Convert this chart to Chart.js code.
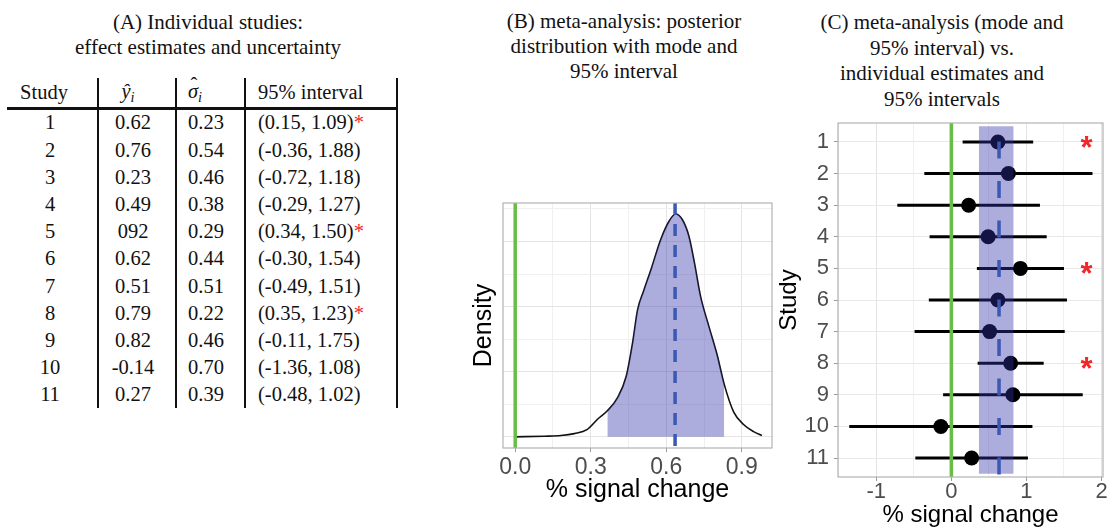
<!DOCTYPE html>
<html>
<head>
<meta charset="utf-8">
<script src="https://cdn.jsdelivr.net/npm/chart.js@4.4.1/dist/chart.umd.min.js"></script>
<style>
  body { margin: 0; width: 1111px; height: 529px; overflow: hidden; background: #fff; position: relative;
         font-family: 'Liberation Serif', 'Times New Roman', serif; color: #111; }
  .ptitle { position: absolute; width: 320px; text-align: center; font-size: 21px; line-height: 25px; }
  .cell { position: absolute; height: 26px; line-height: 26px; font-size: 20.5px; white-space: nowrap; }
  .cell sub { font-size: 0.7em; vertical-align: -0.25em; line-height: 0; }
  .hat { position: relative; display: inline-block; }
  .hat b { position: absolute; left: 0.12em; top: -0.3em; font-weight: normal; font-style: normal; }
  .rule { position: absolute; background: #111; }
  .star { color: #f0282a; }
  canvas { position: absolute; }
</style>
</head>
<body>
<div class="ptitle" style="left:48px;top:10px">(A) Individual studies:<br>effect estimates and uncertainty</div>
<div class="ptitle" style="left:464px;top:9px">(B) meta-analysis: posterior<br>distribution with mode and<br>95% interval</div>
<div class="ptitle" style="left:782px;top:10px;line-height:25.7px">(C) meta-analysis (mode and<br>95% interval) vs.<br>individual estimates and<br>95% intervals</div>
<div id="studyTable"></div>
<canvas id="densityChart" width="310" height="339" style="left:465px;top:190px"></canvas>
<canvas id="forestChart" width="341" height="419" style="left:770px;top:110px"></canvas>

<script>
// --- individual studies ---
const studies = [1, 2, 3, 4, 5, 6, 7, 8, 9, 10, 11];
const estimates = [0.62, 0.76, 0.23, 0.49, 0.92, 0.62, 0.51, 0.79, 0.82, -0.14, 0.27];
const sigmas = [0.23, 0.54, 0.46, 0.38, 0.29, 0.44, 0.51, 0.22, 0.46, 0.70, 0.39];
const lower = [0.15, -0.36, -0.72, -0.29, 0.34, -0.30, -0.49, 0.35, -0.11, -1.36, -0.48];
const upper = [1.09, 1.88, 1.18, 1.27, 1.50, 1.54, 1.51, 1.23, 1.75, 1.08, 1.02];
// estimate column exactly as printed in the table (row 5 reads "092")
const estimateText = ['0.62', '0.76', '0.23', '0.49', '092', '0.62', '0.51', '0.79', '0.82', '-0.14', '0.27'];
const significant = [1, 5, 8];

// --- meta-analysis posterior ---
const densityX = [0, 0.116, 0.182, 0.235, 0.285, 0.327, 0.366, 0.406, 0.441, 0.466, 0.486, 0.510, 0.541,
                  0.578, 0.611, 0.637, 0.663, 0.690, 0.712, 0.736, 0.769, 0.802, 0.830, 0.868, 0.907, 0.947, 0.980];
const densityY = [0, 0.01, 0.02, 0.05, 0.11, 0.27, 0.40, 0.60, 0.93, 1.44, 1.95, 2.24, 2.59,
                  3.03, 3.31, 3.42, 3.34, 3.08, 2.67, 2.16, 1.70, 1.26, 0.81, 0.38, 0.19, 0.08, 0.02];
const postLow = 0.366;
const postHigh = 0.83;
const postMode = 0.635;
const nullValue = 0;

// --- tick labels ---
const densityTicks = [0, 0.3, 0.6, 0.9];
const forestTicks = [-1, 0, 1, 2];

const sans = "'Liberation Sans', Arial, sans-serif";
const bandColor = 'rgba(50, 50, 170, 0.4)';
const zeroGreen = '#69bd45';
const modeBlue = '#3b58b2';
const tickGrey = '#4d4d4d';

// ---------- table (A) ----------
const table = document.getElementById('studyTable');
function cell(html, cx, cy, align) {
    const d = document.createElement('div');
    d.className = 'cell';
    d.innerHTML = html;
    if (align === 'left') {
        d.style.left = cx + 'px';
    } else {
        d.style.left = (cx - 60) + 'px';
        d.style.width = '120px';
        d.style.textAlign = 'center';
    }
    d.style.top = (cy - 13) + 'px';
    table.appendChild(d);
}
function rule(x, y, w, h) {
    const d = document.createElement('div');
    d.className = 'rule';
    Object.assign(d.style, { left: x + 'px', top: y + 'px', width: w + 'px', height: h + 'px' });
    table.appendChild(d);
}

cell('Study', 44, 92);
cell('<i>ŷ</i><sub><i>i</i></sub>', 128, 91);
cell('<span class="hat"><i>σ</i><b>ˆ</b></span><sub><i>i</i></sub>', 195, 91);
cell('95% interval', 258, 92, 'left');
studies.forEach((s, i) => {
    const cy = 122.3 + 27.2 * i;
    cell(String(s), 50, cy);
    cell(estimateText[i], 133, cy);
    cell(sigmas[i].toFixed(2), 206, cy);
    const star = significant.includes(s) ? '<span class="star">*</span>' : '';
    cell(`(${lower[i].toFixed(2)}, ${upper[i].toFixed(2)})${star}`, 258, cy, 'left');
});
rule(7, 107, 391, 2.5);
[96.5, 175, 244, 396].forEach(x => rule(x, 78, 2, 330));

// ---------- shared helpers ----------
const near = (v, list) => list.some(t => Math.abs(t - v) < 1e-6);
const labelFor = (v, list, digits) => {
    const m = list.find(t => Math.abs(t - v) < 1e-6);
    return m === undefined ? '' : m.toFixed(digits);
};
// keep the plot area where afterFit puts it (no extra room for edge labels)
const noEdgePadding = s => { s.paddingTop = 0; s.paddingBottom = 0; s.paddingLeft = 0; s.paddingRight = 0; };

const panelFrame = {
    id: 'panelFrame',
    afterDatasetsDraw(chart) {
        const { ctx, chartArea: a } = chart;
        ctx.save();
        ctx.strokeStyle = '#b3b3b3';
        ctx.lineWidth = 1.2;
        ctx.strokeRect(a.left, a.top, a.right - a.left, a.bottom - a.top);
        ctx.restore();
    }
};

// ---------- density (B) ----------
const densityPoints = densityX.map((x, i) => ({ x, y: densityY[i] }));
const densityYMin = -0.171, densityYMax = 3.59;

new Chart(document.getElementById('densityChart'), {
    type: 'line',
    data: {
        datasets: [
            {
                data: densityPoints,
                borderColor: '#111', borderWidth: 1.6, pointRadius: 0,
                cubicInterpolationMode: 'monotone', fill: false, order: 4
            },
            {
                data: densityPoints.filter(p => p.x >= postLow && p.x <= postHigh),
                borderColor: 'transparent', borderWidth: 0, backgroundColor: bandColor,
                pointRadius: 0, cubicInterpolationMode: 'monotone', fill: 'origin', order: 3
            },
            {
                data: [{ x: nullValue, y: densityYMin }, { x: nullValue, y: densityYMax }],
                borderColor: zeroGreen, borderWidth: 3.5, pointRadius: 0, order: 2
            },
            {
                data: [{ x: postMode, y: densityYMax }, { x: postMode, y: densityYMin }],
                borderColor: modeBlue, borderWidth: 3.5, borderDash: [12, 9], pointRadius: 0, order: 1
            }
        ]
    },
    options: {
        responsive: false,
        animation: false,
        events: [],
        layout: { padding: { left: 0, right: 3, top: 13, bottom: 0 } },
        plugins: { legend: { display: false }, tooltip: { enabled: false } },
        scales: {
            x: {
                type: 'linear', min: -0.0485, max: 1.02,
                ticks: {
                    stepSize: 0.15, includeBounds: false, autoSkip: false, maxRotation: 0,
                    color: tickGrey, padding: 4,
                    font: { family: sans, size: 23, lineHeight: 1 },
                    callback: v => labelFor(v, densityTicks, 1)
                },
                grid: {
                    color: c => near(c.tick.value, densityTicks) ? '#e4e4e4' : '#f0f0f0',
                    lineWidth: 1, tickLength: 4,
                    tickColor: c => near(c.tick.value, densityTicks) ? '#9a9a9a' : 'transparent'
                },
                border: { display: false },
                title: {
                    display: true, text: '% signal change', color: '#000',
                    font: { family: sans, size: 25 }, padding: { top: 0, bottom: 24 }
                },
                afterFit: s => { s.height = 81; noEdgePadding(s); }
            },
            y: {
                type: 'linear', min: densityYMin, max: densityYMax,
                ticks: { stepSize: 0.5, includeBounds: false, display: false },
                grid: {
                    color: c => Number.isInteger(c.tick.value) ? '#e4e4e4' : '#f0f0f0',
                    lineWidth: 1, drawTicks: false
                },
                border: { display: false },
                title: {
                    display: true, text: 'Density', color: '#000',
                    font: { family: sans, size: 25 }, padding: { top: 4, bottom: 0 }
                },
                afterFit: s => { s.width = 38; noEdgePadding(s); }
            }
        }
    },
    plugins: [panelFrame]
});

// ---------- forest (C) ----------
const asteriskX = 1.8;
const bandTop = 0.5, bandBottom = 11.5;
const forestYMin = 0.4, forestYMax = 11.6;

const sigMarks = {
    id: 'sigMarks',
    afterDatasetsDraw(chart) {
        const { ctx, scales: { x, y } } = chart;
        ctx.save();
        ctx.fillStyle = '#f0282a';
        ctx.font = 'bold 31px ' + sans;
        ctx.textAlign = 'center';
        ctx.textBaseline = 'alphabetic';
        const m = ctx.measureText('*');
        const off = (m.actualBoundingBoxAscent - m.actualBoundingBoxDescent) / 2;
        significant.forEach(s => ctx.fillText('*', x.getPixelForValue(asteriskX), y.getPixelForValue(s) + off));
        ctx.restore();
    }
};

const intervalSets = studies.map((s, i) => ({
    data: [{ x: lower[i], y: s }, { x: upper[i], y: s }],
    borderColor: '#000', borderWidth: 3, pointRadius: 0, order: 5
}));

new Chart(document.getElementById('forestChart'), {
    type: 'line',
    data: {
        datasets: [
            ...intervalSets,
            {
                data: studies.map((s, i) => ({ x: estimates[i], y: s })),
                showLine: false, pointRadius: 7.5, pointBackgroundColor: '#000',
                pointBorderWidth: 0, order: 4
            },
            {
                data: [{ x: postLow, y: bandTop }, { x: postHigh, y: bandTop }],
                fill: { value: bandBottom }, backgroundColor: bandColor,
                borderColor: 'transparent', borderWidth: 0, pointRadius: 0, order: 3
            },
            {
                data: [{ x: nullValue, y: forestYMin }, { x: nullValue, y: forestYMax }],
                borderColor: zeroGreen, borderWidth: 3.5, pointRadius: 0, order: 2
            },
            {
                data: [{ x: postMode, y: forestYMin }, { x: postMode, y: forestYMax }],
                borderColor: modeBlue, borderWidth: 3.5, borderDash: [17, 22.5], borderDashOffset: 21,
                pointRadius: 0, order: 1
            }
        ]
    },
    options: {
        responsive: false,
        animation: false,
        events: [],
        layout: { padding: { left: 0, right: 8, top: 13, bottom: 0 } },
        plugins: { legend: { display: false }, tooltip: { enabled: false } },
        scales: {
            x: {
                type: 'linear', min: -1.51, max: 2.02,
                ticks: {
                    stepSize: 0.5, includeBounds: false, autoSkip: false, maxRotation: 0,
                    color: tickGrey, padding: 0,
                    font: { family: sans, size: 22, lineHeight: 1 },
                    callback: v => labelFor(v, forestTicks, 0)
                },
                grid: {
                    color: c => near(c.tick.value, forestTicks) ? '#e4e4e4' : '#f0f0f0',
                    lineWidth: 1, tickLength: 4,
                    tickColor: c => near(c.tick.value, forestTicks) ? '#9a9a9a' : 'transparent'
                },
                border: { display: false },
                title: {
                    display: true, text: '% signal change', color: '#000',
                    font: { family: sans, size: 24 }, padding: { top: 0, bottom: -1 }
                },
                afterFit: s => { s.height = 52; noEdgePadding(s); }
            },
            y: {
                type: 'linear', reverse: true, min: forestYMin, max: forestYMax,
                ticks: {
                    stepSize: 1, includeBounds: false, autoSkip: false,
                    color: tickGrey, padding: 5,
                    font: { family: sans, size: 22 },
                    callback: v => String(v)
                },
                grid: { color: '#e8e8e8', lineWidth: 1, tickLength: 4, tickColor: '#9a9a9a' },
                border: { display: false },
                title: {
                    display: true, text: 'Study', color: '#000',
                    font: { family: sans, size: 24 }, padding: { top: 5, bottom: 0 }
                },
                afterFit: s => { s.width = 68; noEdgePadding(s); }
            }
        }
    },
    plugins: [panelFrame, sigMarks]
});
</script>
</body>
</html>
